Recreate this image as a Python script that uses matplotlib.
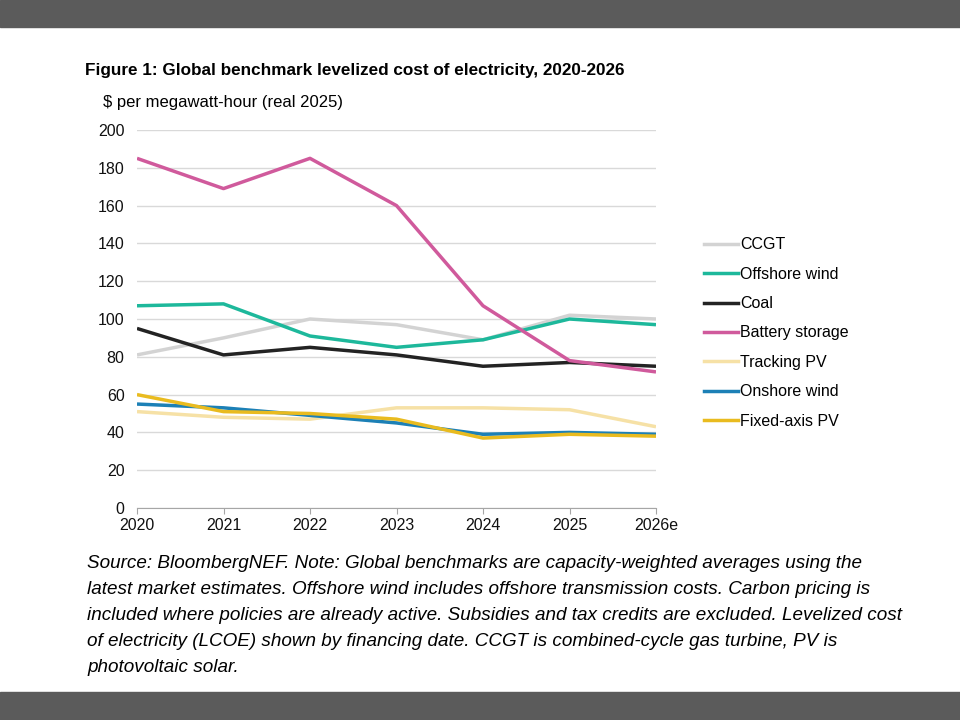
import matplotlib
matplotlib.use("Agg")
import matplotlib.pyplot as plt
from matplotlib.lines import Line2D

years = ["2020", "2021", "2022", "2023", "2024", "2025", "2026e"]
ccgt = [81, 90, 100, 97, 89, 102, 100]
offshore_wind = [107, 108, 91, 85, 89, 100, 97]
coal = [95, 81, 85, 81, 75, 77, 75]
battery_storage = [185, 169, 185, 160, 107, 78, 72]
tracking_pv = [51, 48, 47, 53, 53, 52, 43]
onshore_wind = [55, 53, 49, 45, 39, 40, 39]
fixed_axis_pv = [60, 51, 50, 47, 37, 39, 38]

series = [
    ("CCGT", ccgt, "#d3d3d3"),
    ("Offshore wind", offshore_wind, "#1db89b"),
    ("Coal", coal, "#232323"),
    ("Battery storage", battery_storage, "#d05a9c"),
    ("Tracking PV", tracking_pv, "#f6e1a6"),
    ("Onshore wind", onshore_wind, "#1c80b6"),
    ("Fixed-axis PV", fixed_axis_pv, "#e9bb1f"),
]

font = ["Liberation Sans", "DejaVu Sans"]

fig = plt.figure(figsize=(9.6, 7.2), dpi=100)
fig.patch.set_facecolor("white")

# dark bands top and bottom
fig.add_artist(plt.Rectangle((0, 1 - 27 / 720), 1, 27 / 720, transform=fig.transFigure,
                             color="#5b5b5b", zorder=0))
fig.add_artist(plt.Rectangle((0, 0), 1, 28 / 720, transform=fig.transFigure,
                             color="#5b5b5b", zorder=0))

ax = fig.add_axes([137 / 960, 1 - 508 / 720, (656 - 137) / 960, (508 - 130) / 720])
x = list(range(len(years)))
# lighter lines underneath
order = [4, 0, 1, 2, 5, 6, 3]
for i in order:
    name, vals, col = series[i]
    ax.plot(x, vals, color=col, lw=2.5, solid_capstyle="butt", zorder=3 + i * 0.1)

ax.set_xlim(0, len(years) - 1)
ax.set_ylim(0, 200)
ax.set_yticks(range(0, 201, 20))
ax.set_xticks(x)
ax.set_xticklabels(years)
ax.grid(axis="y", color="#d9d9d9", lw=1)
ax.set_axisbelow(True)
for s in ["top", "right", "left"]:
    ax.spines[s].set_visible(False)
ax.spines["bottom"].set_color("#a6a6a6")
ax.tick_params(axis="y", length=0, pad=9)
ax.tick_params(axis="x", length=4, color="#a6a6a6", pad=3)
for lab in ax.get_xticklabels() + ax.get_yticklabels():
    lab.set_family(font)
    lab.set_fontsize(11.5)
    lab.set_color("#111111")

handles = [Line2D([0], [0], color=c, lw=2.5) for _, _, c in series]
labels = [n for n, _, _ in series]
fig.legend(handles, labels, loc="upper left", bbox_to_anchor=(690 / 960, 1 - 223 / 720),
           frameon=False, handlelength=2.1, handletextpad=0.15, labelspacing=0.9,
           prop={"family": font, "size": 11.5})

fig.text(85 / 960, 1 - 70 / 720, "Figure 1: Global benchmark levelized cost of electricity, 2020-2026",
         fontsize=12.3, fontweight="bold", family=font, va="center", ha="left")
fig.text(103 / 960, 1 - 103 / 720, "$ per megawatt-hour (real 2025)",
         fontsize=12, family=font, va="center", ha="left")

note = ("Source: BloombergNEF. Note: Global benchmarks are capacity-weighted averages using the\n"
        "latest market estimates. Offshore wind includes offshore transmission costs. Carbon pricing is\n"
        "included where policies are already active. Subsidies and tax credits are excluded. Levelized cost\n"
        "of electricity (LCOE) shown by financing date. CCGT is combined-cycle gas turbine, PV is\n"
        "photovoltaic solar.")
fig.text(87 / 960, 1 - 555 / 720, note, fontsize=13.6, style="italic", family=font,
         va="top", ha="left", linespacing=1.7)

fig.savefig("out.png", dpi=100)
